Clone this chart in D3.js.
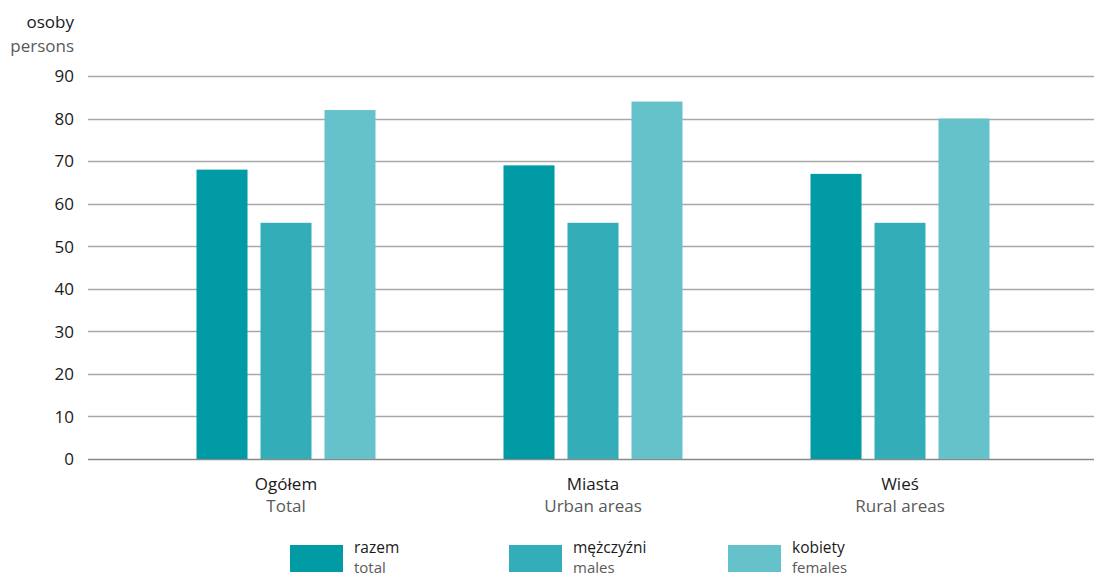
<!DOCTYPE html>
<html>
<head>
<meta charset="utf-8">
<script src="https://cdn.jsdelivr.net/npm/d3@7"></script>
<style>
  html, body { margin: 0; padding: 0; background: #fff; }
  svg { display: block; font-family: "Open Sans", "Noto Sans", sans-serif; }
</style>
</head>
<body>
<svg id="chart" width="1095" height="578"></svg>
<script>
const categoriesPL = ["Ogółem", "Miasta", "Wieś"];
const categoriesEN = ["Total", "Urban areas", "Rural areas"];
const seriesPL = ["razem", "mężczyźni", "kobiety"];
const seriesEN = ["total", "males", "females"];
const razem = [68, 69, 67];
const mezczyzni = [55.5, 55.5, 55.5];
const kobiety = [82, 84, 80];
const yTicks = [0, 10, 20, 30, 40, 50, 60, 70, 80, 90];
const colors = ["#009ba5", "#33aeb8", "#66c2ca"];

const values = [razem, mezczyzni, kobiety];
const svg = d3.select("#chart");

const plotLeft = 88, plotRight = 1094, plotTop = 76, plotBottom = 459;

const y = d3.scaleLinear().domain([0, 90]).range([plotBottom, plotTop]);
const x0 = d3.scalePoint().domain(categoriesPL).range([286, 900]);
const x1 = d3.scaleBand().domain(seriesPL).range([-89.5, 89.5]).paddingInner(0.203);

// grid
const gridG = svg.append("g");
gridG.selectAll("line").data(yTicks).join("line")
  .attr("x1", plotLeft).attr("x2", plotRight)
  .attr("y1", d => Math.round(y(d)) + 0.5).attr("y2", d => Math.round(y(d)) + 0.5)
  .attr("stroke", d => d === 0 ? "#8a8a8a" : "#a8a8a8")
  .attr("stroke-width", d => d === 0 ? 1.6 : 1.3);

// y axis labels
const yAxis = d3.axisLeft(y).tickValues(yTicks).tickSize(0).tickPadding(0);
const ya = svg.append("g").attr("transform", "translate(74,0)").call(yAxis);
ya.select(".domain").remove();
ya.selectAll("text").attr("font-size", 17).attr("fill", "#1a1a1a")
  .attr("font-family", "'Open Sans', sans-serif").attr("dy", "0.34em");

svg.append("text").attr("x", 74).attr("y", 28).attr("text-anchor", "end")
  .attr("font-size", 17).attr("fill", "#1a1a1a").text("osoby");
svg.append("text").attr("x", 74).attr("y", 52).attr("text-anchor", "end")
  .attr("font-size", 17).attr("fill", "#5a5a5a").text("persons");

// bars
const groups = svg.append("g").selectAll("g").data(categoriesPL).join("g")
  .attr("transform", d => `translate(${x0(d)},0)`);
groups.selectAll("rect").data((d, i) => seriesPL.map((s, j) => ({s, v: values[j][i], j})))
  .join("rect")
  .attr("x", d => x1(d.s))
  .attr("width", x1.bandwidth())
  .attr("y", d => y(d.v))
  .attr("height", d => y(0) - y(d.v))
  .attr("fill", d => colors[d.j]);

// category labels
const catG = svg.append("g");
categoriesPL.forEach((c, i) => {
  catG.append("text").attr("x", x0(c)).attr("y", 490).attr("text-anchor", "middle")
    .attr("font-size", 17).attr("fill", "#1a1a1a").text(c);
  catG.append("text").attr("x", x0(c)).attr("y", 512).attr("text-anchor", "middle")
    .attr("font-size", 17).attr("fill", "#5a5a5a").text(categoriesEN[i]);
});

// legend
const legX = d3.scalePoint().domain(seriesPL).range([290, 728]);
const leg = svg.append("g").selectAll("g").data(seriesPL).join("g")
  .attr("transform", d => `translate(${legX(d)},545)`);
leg.append("rect").attr("width", 53).attr("height", 27).attr("fill", (d, i) => colors[i]);
leg.append("text").attr("x", 64).attr("y", 8).attr("font-size", 15.5)
  .attr("fill", "#1a1a1a").text(d => d);
leg.append("text").attr("x", 64).attr("y", 28).attr("font-size", 15)
  .attr("fill", "#5a5a5a").text((d, i) => seriesEN[i]);
</script>
</body>
</html>
